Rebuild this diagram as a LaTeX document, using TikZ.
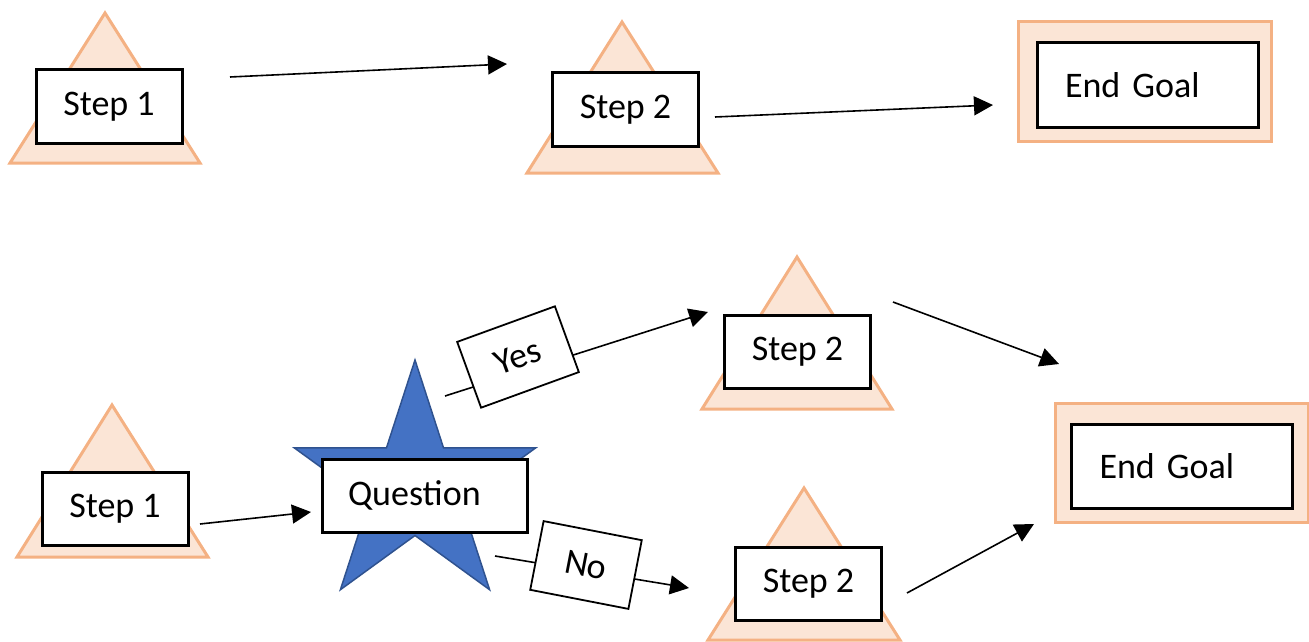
\documentclass[tikz,border=0pt]{standalone}
\usepackage{fontspec}
\setmainfont{Carlito}
\usetikzlibrary{arrows.meta}
\definecolor{peachfill}{HTML}{FBE5D6}
\definecolor{peachline}{HTML}{F4B183}
\definecolor{starfill}{HTML}{4472C4}
\definecolor{starline}{HTML}{2F528F}
\tikzset{
  tri/.style={fill=peachfill, draw=peachline, line width=3pt, line join=miter},
  stepbox/.style={draw=black, fill=white, line width=3pt, minimum width=146pt, minimum height=73pt, inner sep=0pt, font=\fontsize{36}{40}\selectfont},
  goalbox/.style={draw=black, fill=white, line width=3pt, minimum height=84pt, text width=165pt, align=left, inner xsep=28pt, inner ysep=0pt, font=\fontsize{36}{40}\selectfont},
  goalbg/.style={draw=peachline, fill=peachfill, line width=3pt, inner sep=0pt},
  lblbox/.style={draw=black, fill=white, line width=1.8pt, inner sep=0pt, font=\fontsize{36}{40}\selectfont},
  arr/.style={line width=1.6pt, -{Triangle[length=19pt,width=19pt]}},
}
\begin{document}
\begin{tikzpicture}[x=1pt,y=-1pt]
\useasboundingbox (0,0) rectangle (1309,642);
% ---------- top row ----------
\draw[tri] (105,13) -- (200,163) -- (10,163) -- cycle;
\node[stepbox] (s1a) at (109,106.5) {Step 1};
\draw[tri] (622,22) -- (718,173) -- (527,173) -- cycle;
\node[stepbox] (s2a) at (625.5,109.5) {Step 2};
\node[goalbg, minimum width=253pt, minimum height=119pt] (g1bg) at (1144.5,81.5) {};
\node[goalbox, minimum width=221pt] (g1) at (1147.5,85) {End Goal};
\coordinate (a1s) at (230,77);
\coordinate (a1e) at (507,64);
\coordinate (a2s) at (715,117);
\coordinate (a2e) at (993,105);
\draw[arr] (a1s) -- (a1e);
\draw[arr] (a2s) -- (a2e);
% ---------- bottom row ----------
\draw[tri] (112,405) -- (208,557) -- (17,557) -- cycle;
\node[stepbox] (s1b) at (115,509) {Step 1};
% star
\draw[fill=starfill, draw=starline, line width=1.5pt, line join=miter]
  (415,360) -- (443.5,447.8) -- (535.8,447.8) -- (461.1,502) -- (489.6,589.7)
  -- (415,535.5) -- (340.4,589.7) -- (368.9,502) -- (294.2,447.8) -- (386.5,447.8) -- cycle;
\node[stepbox, minimum width=205pt, text width=153pt, align=left, inner xsep=26pt] (q) at (424.5,495.5) {Question};
\coordinate (b1s) at (200,524);
\coordinate (b1e) at (311,512);
\draw[arr] (b1s) -- (b1e);
% yes branch
\draw[tri] (797,257) -- (892,409) -- (702,409) -- cycle;
\node[stepbox] (s2b) at (797.5,351.5) {Step 2};
\coordinate (ys) at (445,396);
\coordinate (ye) at (708,312);
\draw[arr] (ys) -- (ye);
\node[lblbox, rotate=20, minimum width=104pt, minimum height=70pt] (yes) at (518,357) {Yes};
% no branch
\draw[tri] (804,488) -- (900,640) -- (708,640) -- cycle;
\node[stepbox] (s2c) at (808.5,584) {Step 2};
\coordinate (ns) at (495,556);
\coordinate (ne) at (689,588);
\draw[arr] (ns) -- (ne);
\node[lblbox, rotate=-11, minimum width=100pt, minimum height=70pt] (no) at (586,565) {No};
% end goal 2
\node[goalbg, minimum width=253pt, minimum height=119pt] (g2bg) at (1181.5,462.5) {};
\node[goalbox, minimum width=220pt] (g2) at (1182,466.5) {End Goal};
\coordinate (c1s) at (893,302);
\coordinate (c1e) at (1059,364);
\coordinate (c2s) at (907,593);
\coordinate (c2e) at (1034,524);
\draw[arr] (c1s) -- (c1e);
\draw[arr] (c2s) -- (c2e);
\end{tikzpicture}
\end{document}
